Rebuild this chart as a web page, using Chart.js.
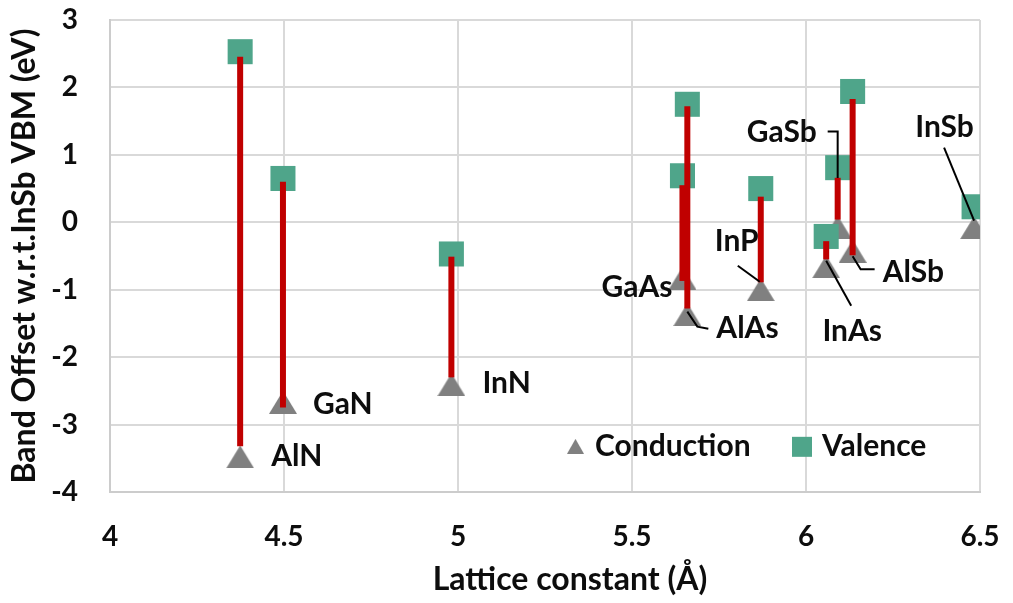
<!DOCTYPE html>
<html>
<head>
<meta charset="utf-8">
<title>Band offsets vs lattice constant</title>
<script src="https://cdn.jsdelivr.net/npm/chart.js@4.4.1/dist/chart.umd.min.js"></script>
<style>
  html, body { margin: 0; padding: 0; background: #fff; }
  #wrap { width: 1013px; height: 603px; }
</style>
</head>
<body>
<div id="wrap"><canvas id="bandChart" width="1013" height="603"></canvas></div>
<script>
// compounds and lattice constants (Å)
const compounds = ['AlN', 'GaN', 'InN', 'GaAs', 'AlAs', 'InP', 'GaSb', 'InAs', 'AlSb', 'InSb'];
const latticeConst = [4.374, 4.497, 4.981, 5.645, 5.659, 5.870, 6.091, 6.058, 6.134, 6.483];

// band edges w.r.t. InSb VBM (eV)
const conductionBand = [-3.48, -2.67, -2.41, -0.83, -1.37, -1.00, -0.07, -0.66, -0.43, -0.08];
const valenceBand = [2.53, 0.65, -0.47, 0.69, 1.75, 0.50, 0.81, -0.21, 1.94, 0.23];

// red gap bars (eV)
const gapTop = [2.455, 0.60, -0.51, 0.55, 1.72, 0.38, 0.66, -0.28, 1.83, null];
const gapBottom = [-3.32, -2.745, -2.30, -0.87, -1.28, -0.89, 0.04, -0.55, -0.49, null];

const xTicks = [4, 4.5, 5, 5.5, 6, 6.5];
const yTicks = [-4, -3, -2, -1, 0, 1, 2, 3];

const FONT = 'Lato, "Open Sans", sans-serif';
const TEXT_COLOR = '#0d0d0d';
const GRID_COLOR = '#d9d9d9';
const VALENCE_COLOR = '#4fa58a';
const CONDUCTION_COLOR = '#808080';
const GAP_COLOR = '#c00000';

// where each compound name sits, in px from its conduction marker
const labelPlacement = {
    AlN:  { at: [31, -1], align: 'left' },
    GaN:  { at: [30, 2], align: 'left' },
    InN:  { at: [31, -1], align: 'left' },
    GaAs: { at: [-10, 9], align: 'right' },
    AlAs: { at: [29, 14], align: 'left', leader: [[0, -3], [10, 12], [21, 14]] },
    InP:  { at: [-46, -48], align: 'left', leader: [[-23, -24], [-1, -8]] },
    GaSb: { at: [-21, -94.5], align: 'right', leader: [[-10, -95.5], [0, -95.5], [0, -49]] },
    AlSb: { at: [30, 21], align: 'left', leader: [[0, 5], [8, 18], [22, 18]] },
    InAs: { at: [26, 65], align: 'center', leader: [[0, -6], [25, 39]] },
    InSb: { at: [-29.5, -100], align: 'center', leader: [[-30, -80], [0, -7]] }
};

// triangle centred in its own box (Chart.js' built-in one sits on the centroid)
function triangleMarker(w, h, color) {
    const c = document.createElement('canvas');
    c.width = w;
    c.height = h;
    const g = c.getContext('2d');
    g.fillStyle = color;
    g.beginPath();
    g.moveTo(w / 2, 0);
    g.lineTo(w, h);
    g.lineTo(0, h);
    g.closePath();
    g.fill();
    return c;
}

const triangleBig = triangleMarker(28, 23, CONDUCTION_COLOR);
const triangleSmall = triangleMarker(17, 15, CONDUCTION_COLOR);

const gapDatasets = compounds.map((name, i) => ({
    label: name + ' gap',
    data: gapTop[i] === null ? [] : [
        { x: latticeConst[i], y: gapBottom[i] },
        { x: latticeConst[i], y: gapTop[i] }
    ],
    showLine: true,
    borderColor: GAP_COLOR,
    borderWidth: 6,
    borderCapStyle: 'butt',
    pointRadius: 0,
    order: 0
}));

const annotations = {
    id: 'annotations',
    afterDatasetsDraw(chart) {
        const ctx = chart.ctx;
        const xs = chart.scales.x;
        const ys = chart.scales.y;
        ctx.save();
        ctx.font = 'bold 30px ' + FONT;
        ctx.fillStyle = TEXT_COLOR;
        ctx.strokeStyle = '#000';
        ctx.lineWidth = 2;
        ctx.textBaseline = 'middle';

        compounds.forEach((name, i) => {
            const p = labelPlacement[name];
            const px = xs.getPixelForValue(latticeConst[i]);
            const py = ys.getPixelForValue(conductionBand[i]);
            if (p.leader) {
                ctx.beginPath();
                p.leader.forEach(([dx, dy], k) => {
                    if (k === 0) ctx.moveTo(px + dx, py + dy);
                    else ctx.lineTo(px + dx, py + dy);
                });
                ctx.stroke();
            }
            ctx.textAlign = p.align;
            ctx.fillText(name, px + p.at[0], py + p.at[1]);
        });

        // legend inside the plot, lower right
        const ly = ys.getPixelForValue(-3.33);
        ctx.textAlign = 'left';
        ctx.drawImage(triangleSmall, 567, ly - 8);
        ctx.fillText('Conduction', 595, ly);
        ctx.fillStyle = VALENCE_COLOR;
        ctx.fillRect(792, ly - 10, 20, 20);
        ctx.fillStyle = TEXT_COLOR;
        ctx.fillText('Valence', 822, ly);

        // axis titles
        ctx.font = 'bold 32px ' + FONT;
        ctx.textAlign = 'center';
        ctx.fillText('Lattice constant (Å)', 570, 580);
        ctx.translate(25, (chart.chartArea.top + chart.chartArea.bottom) / 2);
        ctx.rotate(-Math.PI / 2);
        ctx.fillText('Band Offset w.r.t.InSb VBM (eV)', 0, 0);
        ctx.restore();
    }
};

new Chart(document.getElementById('bandChart'), {
    type: 'scatter',
    data: {
        datasets: [
            ...gapDatasets,
            {
                label: 'Valence',
                data: compounds.map((_, i) => ({ x: latticeConst[i], y: valenceBand[i] })),
                pointStyle: 'rect',
                pointRadius: 17.7,
                pointHoverRadius: 17.7,
                backgroundColor: VALENCE_COLOR,
                borderWidth: 0,
                order: 1
            },
            {
                label: 'Conduction',
                data: compounds.map((_, i) => ({ x: latticeConst[i], y: conductionBand[i] })),
                pointStyle: triangleBig,
                pointRadius: 14,
                backgroundColor: CONDUCTION_COLOR,
                borderWidth: 0,
                order: 2
            }
        ]
    },
    options: {
        responsive: false,
        animation: false,
        devicePixelRatio: 1,
        layout: { padding: { top: 20, right: 33, left: 0, bottom: 0 } },
        plugins: {
            legend: { display: false },
            tooltip: { enabled: false }
        },
        scales: {
            x: {
                type: 'linear',
                min: 4,
                max: 6.5,
                afterBuildTicks: s => { s.ticks = xTicks.map(v => ({ value: v })); },
                afterFit: s => { s.height = 111; s.paddingLeft = 0; s.paddingRight = 0; },
                grid: { color: GRID_COLOR, lineWidth: 2, drawTicks: false },
                border: { color: '#cccccc', width: 2 },
                ticks: {
                    padding: 28,
                    color: TEXT_COLOR,
                    font: { family: FONT, size: 28, weight: 'bold' },
                    callback: v => String(v)
                }
            },
            y: {
                type: 'linear',
                min: -4,
                max: 3,
                afterBuildTicks: s => { s.ticks = yTicks.map(v => ({ value: v })); },
                afterFit: s => { s.width = 110; s.paddingTop = 0; s.paddingBottom = 0; },
                grid: { color: GRID_COLOR, lineWidth: 2, drawTicks: false },
                border: { color: '#cccccc', width: 2 },
                ticks: {
                    padding: 32,
                    color: TEXT_COLOR,
                    font: { family: FONT, size: 28, weight: 'bold' },
                    callback: v => String(v)
                }
            }
        }
    },
    plugins: [annotations]
});
</script>
</body>
</html>
